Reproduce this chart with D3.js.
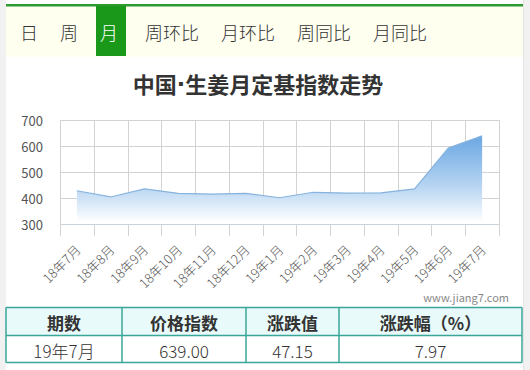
<!DOCTYPE html>
<html>
<head>
<meta charset="utf-8">
<script src="https://cdn.jsdelivr.net/npm/d3@7"></script>
<style>
  html, body { margin: 0; padding: 0; background: #f1f1f1; }
  svg { display: block; }
</style>
</head>
<body>
<svg id="chart" width="530" height="370"></svg>
<script>
(function() {

  const tabs = ["日", "周", "月", "周环比", "月环比", "周同比", "月同比"];
  const activeTab = "月";
  const title = "中国·生姜月定基指数走势";
  const months = ["18年7月", "18年8月", "18年9月", "18年10月", "18年11月", "18年12月",
    "19年1月", "19年2月", "19年3月", "19年4月", "19年5月", "19年6月", "19年7月"];
  const values = [428, 404, 435, 418, 415, 418, 401, 422, 419, 420, 435, 591.85, 639];
  const yTicks = [300, 400, 500, 600, 700];
  const tableHead = ["期数", "价格指数", "涨跌值", "涨跌幅（%）"];
  const tableRow = ["19年7月", "639.00", "47.15", "7.97"];
  const colEdges = [6, 122, 246, 339, 522];

  const FONT = "'Noto Sans CJK SC', 'Noto Sans', sans-serif";
  const INK = "#333";
  const GREEN = "#1a981a";
  const GRID = "#d3d3d3";

  const svg = d3.select("#chart").attr("font-family", FONT);

  // page frame
  svg.append("rect").attr("x", 6).attr("y", 0).attr("width", 517).attr("height", 370).attr("fill", "#fff");
  svg.append("line").attr("x1", 523.5).attr("x2", 523.5).attr("y1", 0).attr("y2", 370).attr("stroke", "#e4e4e4");

  // tab bar
  svg.append("rect").attr("x", 6).attr("y", 6).attr("width", 517).attr("height", 51).attr("fill", "#fffff0");
  svg.append("rect").attr("x", 6).attr("y", 4).attr("width", 517).attr("height", 2.5).attr("fill", "#2f9a2f");

  const charW = 18;
  let tx = 20;
  tabs.forEach(t => {
    const w = t.length * charW;
    const active = t === activeTab;
    if (active) {
      svg.append("rect").attr("x", tx - 4).attr("y", 6).attr("width", w + 12).attr("height", 50).attr("fill", GREEN);
    }
    svg.append("text")
      .attr("x", tx).attr("y", 32)
      .attr("dominant-baseline", "central")
      .attr("font-size", 18)
      .attr("font-weight", 300)
      .attr("fill", active ? "#fff" : INK)
      .text(t);
    tx += w + 22 + (active ? 5 : 0);
  });

  // title -- middle dot drawn in a latin face so it stays narrow
  const titleText = svg.append("text")
    .attr("x", 258).attr("y", 83)
    .attr("text-anchor", "middle")
    .attr("dominant-baseline", "central")
    .attr("font-size", 22)
    .attr("font-weight", "bold")
    .attr("fill", INK);
  title.split("·").forEach((part, i) => {
    if (i > 0) titleText.append("tspan").attr("font-family", "'DejaVu Sans', sans-serif").text("·");
    titleText.append("tspan").text(part);
  });

  // chart
  const plot = { left: 60, right: 499, top: 120, bottom: 224 };

  const x = d3.scaleBand().domain(months).range([plot.left, plot.right]);
  const y = d3.scaleLinear().domain([300, 700]).range([plot.bottom, plot.top]);
  const cx = d => x(d) + x.bandwidth() / 2;

  const defs = svg.append("defs");
  const grad = defs.append("linearGradient")
    .attr("id", "areaFill")
    .attr("gradientUnits", "userSpaceOnUse")
    .attr("x1", 0).attr("x2", 0)
    .attr("y1", y(d3.max(values))).attr("y2", plot.bottom - 2);
  grad.append("stop").attr("offset", "0%").attr("stop-color", "#6aa7e3");
  grad.append("stop").attr("offset", "60%").attr("stop-color", "#b9d6f2");
  grad.append("stop").attr("offset", "100%").attr("stop-color", "#ffffff");

  // horizontal grid + y labels
  yTicks.forEach(v => {
    svg.append("line")
      .attr("x1", plot.left).attr("x2", plot.right)
      .attr("y1", y(v) + 0.5).attr("y2", y(v) + 0.5)
      .attr("stroke", v === 300 ? "#c9d3de" : GRID);
    svg.append("text")
      .attr("x", 43).attr("y", y(v))
      .attr("text-anchor", "end")
      .attr("dominant-baseline", "central")
      .attr("font-size", 13)
      .attr("fill", "#555")
      .text(v);
  });

  // vertical grid at band edges, ticks run below axis
  months.concat([null]).forEach(m => {
    const gx = Math.round(m ? x(m) : plot.right) + 0.5;
    svg.append("line")
      .attr("x1", gx).attr("x2", gx)
      .attr("y1", plot.top).attr("y2", plot.bottom + 12)
      .attr("stroke", GRID);
  });

  const area = d3.area()
    .x((d, i) => cx(months[i]))
    .y0(plot.bottom)
    .y1(d => y(d));
  const line = d3.line()
    .x((d, i) => cx(months[i]))
    .y(d => y(d));

  svg.append("path").datum(values).attr("d", area).attr("fill", "url(#areaFill)");
  svg.append("path").datum(values).attr("d", line)
    .attr("fill", "none").attr("stroke", "#86b3de").attr("stroke-width", 1.2);

  // x labels
  months.forEach(m => {
    const lx = cx(m) + 1, ly = plot.bottom + 23;
    svg.append("text")
      .attr("transform", `translate(${lx},${ly}) rotate(-45)`)
      .attr("text-anchor", "end")
      .attr("dominant-baseline", "central")
      .attr("font-size", 13)
      .attr("font-weight", 300)
      .attr("fill", "#555")
      .text(m);
  });

  // watermark
  svg.append("text")
    .attr("x", 509).attr("y", 297)
    .attr("text-anchor", "end")
    .attr("dominant-baseline", "central")
    .attr("font-size", 11)
    .attr("fill", "#888")
    .text("www.jiang7.com");

  // table
  const tTop = 307.5, rowH = 28;
  const TEAL = "#3aa699";
  svg.append("rect").attr("x", colEdges[0]).attr("y", tTop)
    .attr("width", colEdges[4] - colEdges[0]).attr("height", rowH)
    .attr("fill", "#e9fafa");

  [tableHead, tableRow].forEach((row, r) => {
    row.forEach((cell, c) => {
      svg.append("text")
        .attr("x", (colEdges[c] + colEdges[c + 1]) / 2)
        .attr("y", tTop + rowH * r + rowH / 2 + 1)
        .attr("text-anchor", "middle")
        .attr("dominant-baseline", "central")
        .attr("font-size", 17)
        .attr("font-weight", r === 0 ? "bold" : 300)
        .attr("fill", INK)
        .text(cell);
    });
  });

  [0, 1, 2].forEach(r => {
    const ly = tTop + rowH * r - (r === 2 ? 1 : 0);
    svg.append("line")
      .attr("x1", colEdges[0]).attr("x2", colEdges[4])
      .attr("y1", ly).attr("y2", ly)
      .attr("stroke", TEAL).attr("stroke-width", 1.5);
  });
  colEdges.forEach(e => {
    svg.append("line")
      .attr("x1", e).attr("x2", e)
      .attr("y1", tTop).attr("y2", tTop + rowH * 2 - 1)
      .attr("stroke", TEAL).attr("stroke-width", 1.5);
  });

})();
</script>
</body>
</html>
